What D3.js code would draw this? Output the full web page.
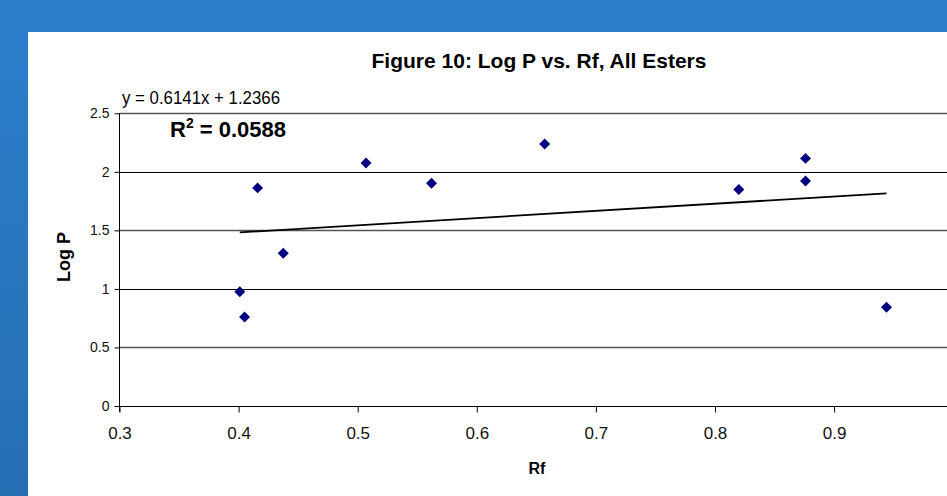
<!DOCTYPE html>
<html>
<head>
<meta charset="utf-8">
<script src="https://cdn.jsdelivr.net/npm/d3@7"></script>
<style>
    html, body { margin: 0; padding: 0; background: #fff; }
    svg { display: block; font-family: "Liberation Sans", Arial, sans-serif; }
</style>
</head>
<body>
<div id="chart"></div>
<script>
/* global d3 */
// data
var rfValues = [0.401, 0.405, 0.416, 0.4375, 0.507, 0.562, 0.657, 0.820, 0.876, 0.876, 0.944];
var logPValues = [0.976, 0.760, 1.863, 1.304, 2.075, 1.902, 2.237, 1.850, 2.115, 1.921, 0.843];
var xTicks = [0.3, 0.4, 0.5, 0.6, 0.7, 0.8, 0.9];
var yTicks = [0, 0.5, 1, 1.5, 2, 2.5];
var trendSlope = 0.6141;
var trendIntercept = 1.2366;
var rSquared = "0.0588";

(function () {
    "use strict";

    var width = 947,
        height = 496,
        plot = { left: 119.5, top: 113.3, right: 953.2, bottom: 406 },
        points = rfValues.map(function (v, i) { return { x: v, y: logPValues[i] }; }),
        xScale,
        yScale,
        svg,
        grad,
        r2,
        xMin,
        xMax;

    xScale = d3.scaleLinear().domain([0.3, 1.0]).range([plot.left, plot.right]);
    yScale = d3.scaleLinear().domain([0, 2.5]).range([plot.bottom, plot.top]);

    svg = d3.select("#chart")
        .append("svg")
        .attr("width", width)
        .attr("height", height);

    // blue frame of the slide
    grad = svg.append("defs").append("linearGradient")
        .attr("id", "side")
        .attr("x1", 0).attr("y1", 0).attr("x2", 0).attr("y2", 1);
    grad.append("stop").attr("offset", "0%").attr("stop-color", "#2b7fcc");
    grad.append("stop").attr("offset", "100%").attr("stop-color", "#266eb2");

    svg.append("rect").attr("x", 0).attr("y", 0).attr("width", 28).attr("height", height).attr("fill", "url(#side)");
    svg.append("rect").attr("x", 0).attr("y", 0).attr("width", width).attr("height", 32).attr("fill", "#2b7fcc");

    // horizontal grid lines
    svg.append("g")
        .selectAll("line")
        .data(yTicks.slice(1))
        .enter()
        .append("line")
        .attr("x1", plot.left)
        .attr("x2", width)
        .attr("y1", function (d) { return Math.round(yScale(d)) + 0.5; })
        .attr("y2", function (d) { return Math.round(yScale(d)) + 0.5; })
        .attr("stroke", function (d, i) { return i % 2 === 0 ? "#555" : "#000"; })
        .attr("stroke-width", function (d, i) { return i % 2 === 0 ? 1.4 : 1; });

    // axes
    svg.append("g")
        .attr("transform", "translate(0," + (Math.round(plot.bottom) + 0.5) + ")")
        .call(d3.axisBottom(xScale).tickValues(xTicks).tickSize(6).tickPadding(14).tickSizeOuter(0)
            .tickFormat(d3.format(".1f")))
        .call(function (g) {
            g.select(".domain").attr("d", "M" + plot.left + ",0H" + width).attr("stroke", "#000");
            g.selectAll(".tick text").attr("font-size", 17).attr("fill", "#111").attr("font-family", null);
        });

    svg.append("g")
        .attr("transform", "translate(" + plot.left + ",0)")
        .call(d3.axisLeft(yScale).tickValues(yTicks).tickSize(5).tickPadding(5).tickSizeOuter(0)
            .tickFormat(d3.format("")))
        .call(function (g) {
            g.select(".domain").attr("d", "M0," + plot.top + "V" + (plot.bottom + 6)).attr("stroke", "#000");
            g.selectAll(".tick text").attr("font-size", 14).attr("fill", "#111").attr("font-family", null);
        });

    // linear trend line over the data range
    xMin = d3.min(rfValues);
    xMax = d3.max(rfValues);
    svg.append("path")
        .datum([xMin, xMax])
        .attr("fill", "none")
        .attr("stroke", "#000")
        .attr("stroke-width", 1.8)
        .attr("d", d3.line()
            .x(function (d) { return xScale(d); })
            .y(function (d) { return yScale(trendSlope * d + trendIntercept); }));

    // data points (diamonds)
    svg.append("g")
        .selectAll("path")
        .data(points)
        .enter()
        .append("path")
        .attr("transform", function (d) { return "translate(" + xScale(d.x) + "," + yScale(d.y) + ") rotate(45)"; })
        .attr("d", d3.symbol(d3.symbolSquare, 60))
        .attr("fill", "#000080");

    // texts
    svg.append("text")
        .attr("x", 539)
        .attr("y", 68)
        .attr("text-anchor", "middle")
        .attr("font-size", 21)
        .attr("font-weight", "bold")
        .text("Figure 10: Log P vs. Rf, All Esters");

    svg.append("text")
        .attr("x", 122)
        .attr("y", 104)
        .attr("font-size", 18)
        .attr("textLength", 158)
        .attr("lengthAdjust", "spacingAndGlyphs")
        .text("y = " + trendSlope + "x + " + trendIntercept);

    r2 = svg.append("text")
        .attr("x", 170)
        .attr("y", 137)
        .attr("font-size", 22)
        .attr("font-weight", "bold");
    r2.append("tspan").text("R");
    r2.append("tspan").attr("dy", -9).attr("font-size", 14).text("2");
    r2.append("tspan").attr("dy", 9).text(" = " + rSquared);

    svg.append("text")
        .attr("x", 537)
        .attr("y", 474)
        .attr("text-anchor", "middle")
        .attr("font-size", 16)
        .attr("font-weight", "bold")
        .text("Rf");

    svg.append("text")
        .attr("transform", "translate(70,257) rotate(-90)")
        .attr("text-anchor", "middle")
        .attr("font-size", 18)
        .attr("font-weight", "bold")
        .text("Log P");
}());
</script>
</body>
</html>
